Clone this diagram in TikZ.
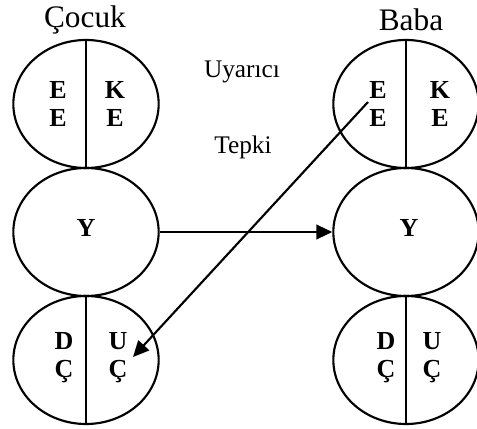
\documentclass[tikz,border=0pt]{standalone}
\usepackage{fontspec}
\setmainfont{Liberation Serif}
\usetikzlibrary{arrows.meta,%
                shapes.geometric}

\begin{document}
\begin{tikzpicture}[x=0.75pt,y=0.75pt]
  \tikzstyle{Oval}=[draw,ellipse,line width=1.6pt,minimum width=109pt,minimum height=96pt,inner sep=0pt]
  \tikzstyle{Cell}=[align=center,inner sep=0pt,font=\fontsize{19.5}{21}\selectfont\bfseries]
  \tikzstyle{Head}=[inner sep=0pt,font=\fontsize{23.5}{26}\selectfont]
  \tikzstyle{Note}=[inner sep=0pt,font=\fontsize{19}{22}\selectfont]
  \tikzstyle{EdgeStyle}=[line width=1.6pt,-{Triangle[length=12pt,width=11pt]}]
  \useasboundingbox (0,0) rectangle (477,428);
  % Cocuk
  \node[Oval] (cE) at (86,324) {};
  \node[Oval] (cY) at (86,196) {};
  \node[Oval] (cC) at (86,68) {};
  % Baba
  \node[Oval] (bE) at (406,324) {};
  \node[Oval] (bY) at (406,196) {};
  \node[Oval] (bC) at (406,68) {};
  \draw[line width=1.6pt] (cE.north) -- (cE.south);
  \draw[line width=1.6pt] (cC.north) -- (cC.south);
  \draw[line width=1.6pt] (bE.north) -- (bE.south);
  \draw[line width=1.6pt] (bC.north) -- (bC.south);

  \node[Head] (cocuk) at (85,408) {Çocuk};
  \node[Head] (baba) at (411,408) {Baba};
  \node[Note] (uyarici) at (242,356) {Uyarıcı};
  \node[Note] (tepki) at (243,281) {Tepki};

  \node[Cell] (cEE) at (58,324) {E\\E};
  \node[Cell] (cKE) at (115,324) {K\\E};
  \node[Cell] (bEE) at (378,324) {E\\E};
  \node[Cell] (bKE) at (440,324) {K\\E};
  \node[Cell] (cYY) at (86,200) {Y};
  \node[Cell] (bYY) at (409,200) {Y};
  \node[Cell] (cDC) at (64,70) {D\\Ç};
  \node[Cell] (cUC) at (118,70) {U\\Ç};
  \node[Cell] (bDC) at (386,70) {D\\Ç};
  \node[Cell] (bUC) at (432,70) {U\\Ç};

  \coordinate (from) at (368,326);
  \coordinate (to) at (133,71);
  \draw[EdgeStyle] (cY) -- (bY);
  \draw[EdgeStyle] (from) -- (to);
\end{tikzpicture}
\end{document}
